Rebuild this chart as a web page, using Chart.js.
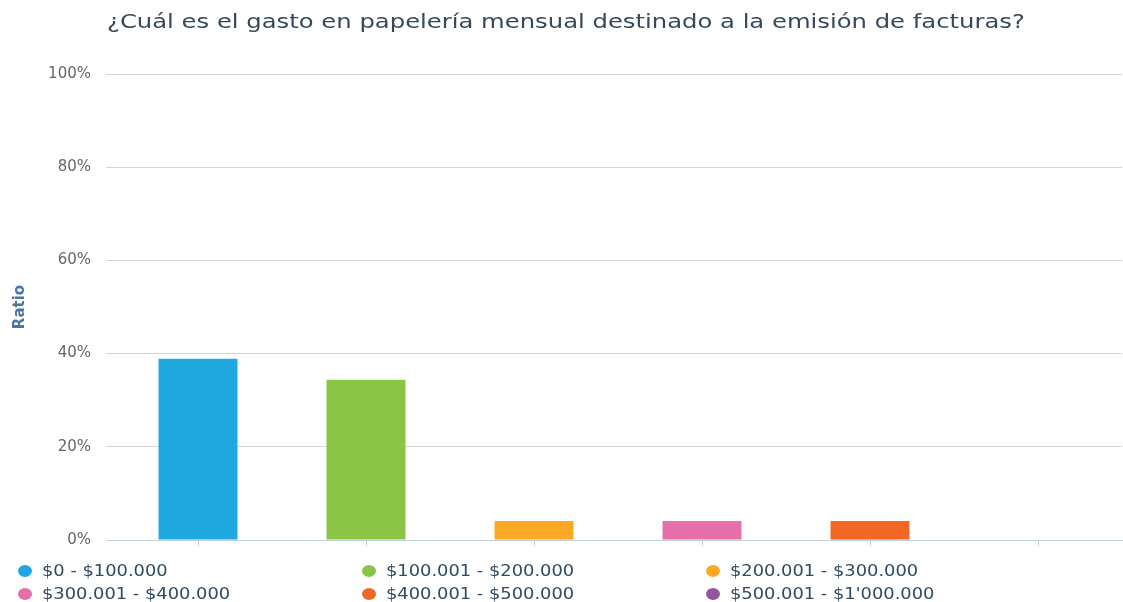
<!DOCTYPE html>
<html><head><meta charset="utf-8">
<script src="https://cdn.jsdelivr.net/npm/chart.js@4"></script>
<style>
body{margin:0;background:#fff;overflow:hidden}
#wrap{position:relative;width:1123px;height:602px}
#title{position:absolute;left:107px;top:9px;font:20px "DejaVu Sans";color:#34495e;white-space:nowrap;transform-origin:0 0;display:inline-block}
.leg{position:absolute;height:20px;white-space:nowrap}
.leg i{position:absolute;left:0;top:4px;width:14px;height:12px;border-radius:50%}
.leg span{position:absolute;left:24px;top:0;font:15px "DejaVu Sans";line-height:20px;color:#2f4b66;transform:scaleX(1.19);transform-origin:0 50%}
</style></head>
<body><div id="wrap"><canvas id="c" width="1123" height="602"></canvas>
<div id="title">¿Cuál es el gasto en papelería mensual destinado a la emisión de facturas?</div>
<div id="legend"></div></div>
<script>
const categories = ["$0 - $100.000","$100.001 - $200.000","$200.001 - $300.000","$300.001 - $400.000","$400.001 - $500.000","$500.001 - $1'000.000"];
const values = [38.9, 34.4, 4.1, 4.1, 4.1, 0];
const colors = ["#1fa8e0","#8ac546","#fba924","#e66ea9","#f26724","#94559f"];
const yTicks = [0, 20, 40, 60, 80, 100];

// title width fit
const t = document.getElementById('title');
t.style.transform = 'scaleX(' + (918 / t.offsetWidth) + ')';

// legend
const leg = document.getElementById('legend');
categories.forEach((c, i) => {
  const d = document.createElement('div');
  d.className = 'leg';
  d.style.left = (18 + (i % 3) * 344) + 'px';
  d.style.top = (561 + Math.floor(i / 3) * 23) + 'px';
  const dot = document.createElement('i');
  dot.style.background = colors[i];
  const s = document.createElement('span');
  s.textContent = c;
  d.appendChild(dot); d.appendChild(s);
  leg.appendChild(d);
});

new Chart(document.getElementById('c'), {
  type: 'bar',
  data: { labels: categories, datasets: [{ data: values, backgroundColor: colors, borderWidth: 0, categoryPercentage: 1, barPercentage: 0.47 }] },
  options: {
    responsive: false, animation: false,
    layout: { padding: { left: 0, top: 74, right: 1, bottom: 56 } },
    plugins: { legend: { display: false }, tooltip: { enabled: false } },
    scales: {
      x: {
        offset: true,
        grid: { drawOnChartArea: false, offset: false, tickLength: 6, color: '#c0d0e0', tickColor: '#c0d0e0' },
        border: { color: '#c0d0e0', width: 1 },
        ticks: { display: false }
      },
      y: {
        min: 0, max: 100,
        afterBuildTicks: s => { s.ticks = yTicks.map(v => ({ value: v })); },
        afterFit: s => { s.width = 114; },
        grid: { tickLength: 8, color: c => c.tick && c.tick.value === 0 ? '#c0d0e0' : '#d4d4d4', tickColor: c => c.tick && c.tick.value === 0 ? '#c0d0e0' : '#d4d4d4' },
        border: { display: false },
        ticks: { padding: 15, color: '#666666', font: { family: 'DejaVu Sans', size: 15 }, callback: v => v + '%' },
        title: { display: true, text: 'Ratio', color: '#4d759e', font: { family: 'DejaVu Sans', size: 15, weight: 'bold' }, padding: { top: 11, bottom: 0 } }
      }
    }
  }
});
</script></body></html>
